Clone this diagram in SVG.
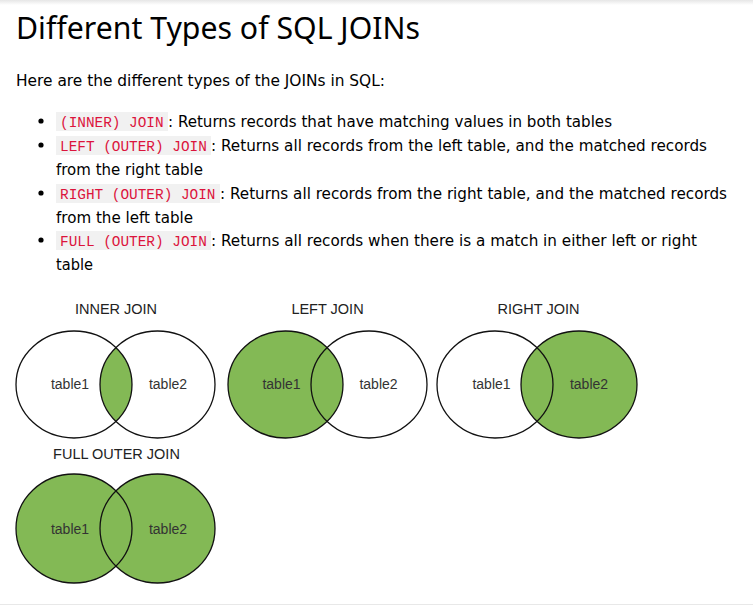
<svg xmlns="http://www.w3.org/2000/svg" width="753" height="616" viewBox="0 0 753 616">
<defs>
<linearGradient id="topShade" x1="0" y1="0" x2="0" y2="1">
<stop offset="0" stop-color="#e6e6e6"/>
<stop offset="1" stop-color="#ffffff"/>
</linearGradient>
</defs>
<style>
.title{font-family:"Noto Sans","Open Sans","DejaVu Sans",sans-serif;font-size:31px;fill:#000;}
.body{font-family:"DejaVu Sans","Liberation Sans",sans-serif;font-size:15px;fill:#000;}
.code{font-family:"Liberation Mono","DejaVu Sans Mono",monospace;font-size:14.4px;fill:#dc143c;}
.codebg{fill:#f1f1f1;}
.bullet{fill:#000;}
.vt{font-family:"Liberation Sans","Open Sans",sans-serif;font-size:14.5px;fill:#222;text-anchor:middle;}
.lbl{font-family:"Liberation Sans","Open Sans",sans-serif;font-size:14px;fill:#333;text-anchor:middle;}
.c{fill:none;stroke:#111;stroke-width:1.3;}
.g{fill:#83b955;}
.w{fill:#fff;}
</style>
<rect x="0" y="0" width="753" height="616" fill="#fff"/>
<rect x="0" y="0" width="753" height="5" fill="url(#topShade)"/>
<line x1="0" y1="604.5" x2="753" y2="604.5" stroke="#e8e8e8" stroke-width="1"/>

<g id="header">
<text class="title" x="16" y="39" textLength="404" lengthAdjust="spacingAndGlyphs">Different Types of SQL JOINs</text>
<text class="body" x="16" y="86" textLength="369" lengthAdjust="spacingAndGlyphs">Here are the different types of the JOINs in SQL:</text>
</g>

<g id="list">
<circle class="bullet" cx="41" cy="121" r="2.6"/>
<rect class="codebg" x="56" y="112" width="112" height="19"/>
<text class="code" x="60" y="127">(INNER) JOIN</text>
<text class="body" x="168" y="127" textLength="444" lengthAdjust="spacingAndGlyphs">: Returns records that have matching values in both tables</text>

<circle class="bullet" cx="41" cy="145" r="2.6"/>
<rect class="codebg" x="56" y="136" width="155" height="19"/>
<text class="code" x="60" y="151">LEFT (OUTER) JOIN</text>
<text class="body" x="211" y="151" textLength="496" lengthAdjust="spacingAndGlyphs">: Returns all records from the left table, and the matched records</text>
<text class="body" x="56" y="175" textLength="147" lengthAdjust="spacingAndGlyphs">from the right table</text>

<circle class="bullet" cx="41" cy="193" r="2.6"/>
<rect class="codebg" x="56" y="184" width="164" height="19"/>
<text class="code" x="60" y="199">RIGHT (OUTER) JOIN</text>
<text class="body" x="220" y="199" textLength="507" lengthAdjust="spacingAndGlyphs">: Returns all records from the right table, and the matched records</text>
<text class="body" x="56" y="223" textLength="137" lengthAdjust="spacingAndGlyphs">from the left table</text>

<circle class="bullet" cx="41" cy="240" r="2.6"/>
<rect class="codebg" x="56" y="231" width="155" height="19"/>
<text class="code" x="60" y="246">FULL (OUTER) JOIN</text>
<text class="body" x="211" y="246" textLength="486" lengthAdjust="spacingAndGlyphs">: Returns all records when there is a match in either left or right</text>
<text class="body" x="56" y="270" textLength="37" lengthAdjust="spacingAndGlyphs">table</text>
</g>

<g id="inner-join">
<defs>
<clipPath id="clipInner"><ellipse cx="74" cy="384.5" rx="58" ry="53.5"/></clipPath>
</defs>
<ellipse class="g" cx="157.5" cy="384.5" rx="57.5" ry="53.5" clip-path="url(#clipInner)"/>
<ellipse class="c" cx="74" cy="384.5" rx="58" ry="53.5"/>
<ellipse class="c" cx="157.5" cy="384.5" rx="57.5" ry="53.5"/>
<text class="vt" x="116" y="314">INNER JOIN</text>
<text class="lbl" x="70" y="389">table1</text>
<text class="lbl" x="168" y="389">table2</text>
</g>

<g id="left-join">
<ellipse class="g" cx="285.5" cy="384.5" rx="57.5" ry="53.5"/>
<ellipse class="c" cx="285.5" cy="384.5" rx="57.5" ry="53.5"/>
<ellipse class="c" cx="369" cy="384.5" rx="58" ry="53.5"/>
<text class="vt" x="327.5" y="314">LEFT JOIN</text>
<text class="lbl" x="281.5" y="389">table1</text>
<text class="lbl" x="378.5" y="389">table2</text>
</g>

<g id="right-join">
<ellipse class="g" cx="579" cy="384.5" rx="58" ry="53.5"/>
<ellipse class="c" cx="495" cy="384.5" rx="58" ry="53.5"/>
<ellipse class="c" cx="579" cy="384.5" rx="58" ry="53.5"/>
<text class="vt" x="538.5" y="314">RIGHT JOIN</text>
<text class="lbl" x="491.5" y="389">table1</text>
<text class="lbl" x="589" y="389">table2</text>
</g>

<g id="full-outer-join">
<ellipse class="g" cx="74" cy="528.5" rx="58" ry="54.5"/>
<ellipse class="g" cx="157.5" cy="528.5" rx="57.5" ry="54.5"/>
<ellipse class="c" cx="74" cy="528.5" rx="58" ry="54.5"/>
<ellipse class="c" cx="157.5" cy="528.5" rx="57.5" ry="54.5"/>
<text class="vt" x="116.5" y="459">FULL OUTER JOIN</text>
<text class="lbl" x="70" y="534">table1</text>
<text class="lbl" x="168" y="534">table2</text>
</g>

<g id="connectors"></g>
</svg>
